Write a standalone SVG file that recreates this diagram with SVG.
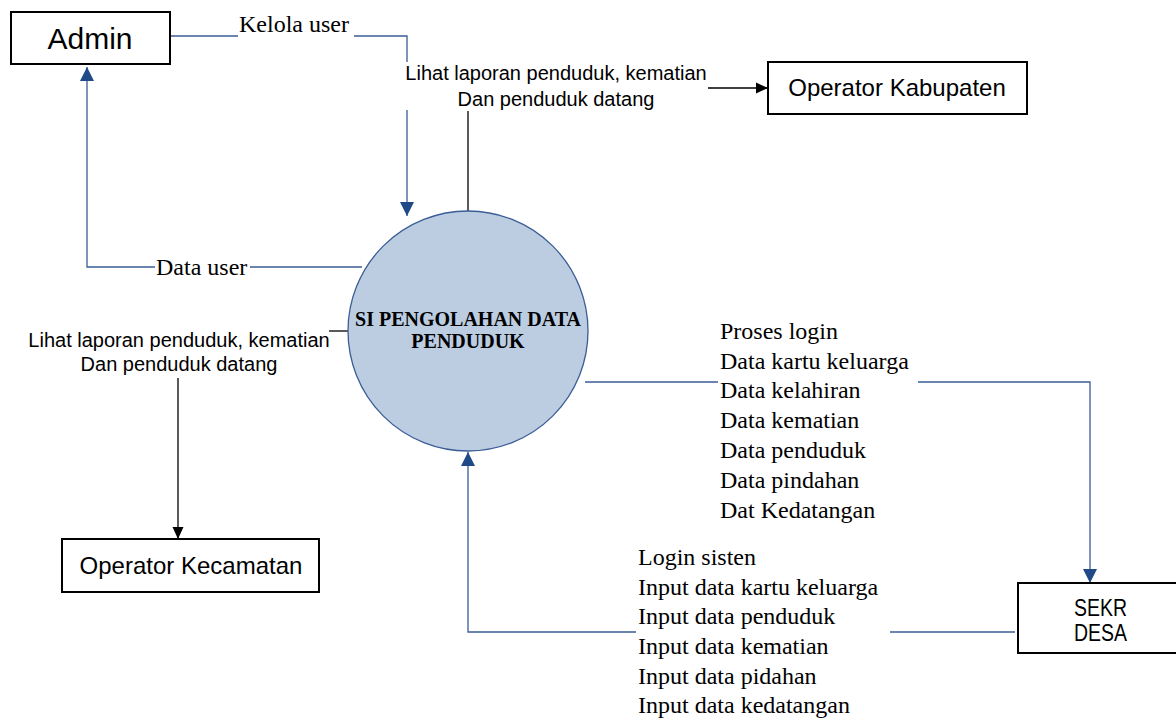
<svg xmlns="http://www.w3.org/2000/svg" width="1176" height="720" viewBox="0 0 1176 720">
<style>
.box{fill:#fff;stroke:#000;stroke-width:2}
.nt{font-family:"Liberation Sans",Arial,sans-serif;font-size:24px;fill:#000}
.ls{font-family:"Liberation Sans",Arial,sans-serif;font-size:20px;fill:#000}
.lt{font-family:"Liberation Serif","Times New Roman",serif;font-size:24px;fill:#000}
.bl{fill:none;stroke:#3A5D96;stroke-width:1.3}
.bk{fill:none;stroke:#000;stroke-width:1.3}
</style>
<defs>
<marker id="ab" markerUnits="userSpaceOnUse" markerWidth="14" markerHeight="14" viewBox="0 0 14 14" refX="14" refY="7" orient="auto">
<path d="M0,0 L14,7 L0,14 Z" fill="#1F4A87"/>
</marker>
<marker id="ak" markerUnits="userSpaceOnUse" markerWidth="12" markerHeight="12" viewBox="0 0 12 12" refX="12" refY="6" orient="auto">
<path d="M0,0.5 L12,6 L0,11.5 Z" fill="#000"/>
</marker>
</defs>
<g id="connectors">
<polyline class="bl" points="170,36 238,36"/>
<polyline class="bl" points="354,36 407,36 407,62"/>
<polyline class="bl" points="407,110 407,216" marker-end="url(#ab)"/>
<polyline class="bk" points="468,211 468,111"/>
<polyline class="bk" points="708,88 768,88" marker-end="url(#ak)"/>
<polyline class="bl" points="362,267 250,267"/>
<polyline class="bl" points="155,267 87,267 87,67" marker-end="url(#ab)"/>
<polyline class="bk" points="329,331 349,331"/>
<polyline class="bk" points="178,378 178,539" marker-end="url(#ak)"/>
<polyline class="bl" points="585,382 718,382"/>
<polyline class="bl" points="918,382 1090,382 1090,583" marker-end="url(#ab)"/>
<polyline class="bl" points="1015,632 890,632"/>
<polyline class="bl" points="636,632 468,632 468,452" marker-end="url(#ab)"/>
</g>
<g id="labels">
<text class="lt" x="239" y="32">Kelola user</text>
<text class="ls" x="556" y="80" text-anchor="middle">Lihat laporan penduduk, kematian</text>
<text class="ls" x="556" y="106" text-anchor="middle">Dan penduduk datang</text>
<text class="lt" x="156" y="275">Data user</text>
<text class="ls" x="179" y="347" text-anchor="middle">Lihat laporan penduduk, kematian</text>
<text class="ls" x="179" y="371" text-anchor="middle">Dan penduduk datang</text>
<text class="lt" x="720" y="339">Proses login</text>
<text class="lt" x="720" y="369">Data kartu keluarga</text>
<text class="lt" x="720" y="398">Data kelahiran</text>
<text class="lt" x="720" y="428">Data kematian</text>
<text class="lt" x="720" y="458">Data penduduk</text>
<text class="lt" x="720" y="488">Data pindahan</text>
<text class="lt" x="720" y="518">Dat Kedatangan</text>
<text class="lt" x="638" y="565">Login sisten</text>
<text class="lt" x="638" y="595">Input data kartu keluarga</text>
<text class="lt" x="638" y="624">Input data penduduk</text>
<text class="lt" x="638" y="654">Input data kematian</text>
<text class="lt" x="638" y="684">Input data pidahan</text>
<text class="lt" x="638" y="713">Input data kedatangan</text>
</g>
<g id="admin">
<rect class="box" x="11" y="12" width="159" height="52"/>
<text class="nt" x="90" y="49" text-anchor="middle" style="font-size:30px">Admin</text>
</g>
<g id="operator-kabupaten">
<rect class="box" x="768" y="62" width="259" height="52"/>
<text class="nt" x="897" y="96" text-anchor="middle">Operator Kabupaten</text>
</g>
<g id="operator-kecamatan">
<rect class="box" x="62" y="539" width="257" height="53"/>
<text class="nt" x="191" y="574" text-anchor="middle">Operator Kecamatan</text>
</g>
<g id="sekr-desa">
<rect class="box" x="1018" y="583" width="170" height="70"/>
<text class="nt" x="1074" y="616" textLength="53" lengthAdjust="spacingAndGlyphs">SEKR</text>
<text class="nt" x="1074" y="641" textLength="53" lengthAdjust="spacingAndGlyphs">DESA</text>
</g>
<g id="process">
<circle cx="468" cy="331" r="120" fill="#BCCDE2" stroke="#3A5D96" stroke-width="1.3"/>
<text x="468" y="326" text-anchor="middle" style="font-family:'Liberation Serif','Times New Roman',serif;font-size:20px;font-weight:bold">SI PENGOLAHAN DATA</text>
<text x="468" y="348" text-anchor="middle" style="font-family:'Liberation Serif','Times New Roman',serif;font-size:20px;font-weight:bold">PENDUDUK</text>
</g>
</svg>
